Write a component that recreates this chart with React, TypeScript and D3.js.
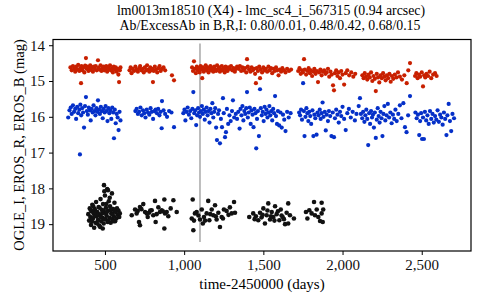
import { useEffect, useRef } from "react";
import * as d3 from "d3";

// light curve points, [time-2450000, mag]
const erosR: [number, number][] = [
  [282,14.62],[290,14.70],[298,14.58],[305,14.66],[312,14.74],[318,14.60],[325,14.68],[331,14.55],[338,14.72],[344,14.64],[349,15.06],[352,14.58],[358,14.70],[363,14.62],[370,14.76],[375,14.57],[380,14.36],[384,14.66],[390,14.60],[396,14.72],[401,14.64],[407,14.56],[412,14.69],[418,14.62],[424,14.74],[430,14.60],[436,14.66],[442,14.58],[448,14.70],[456,14.42],[460,14.63],[466,14.68],[472,14.56],[478,14.72],[484,14.64],[490,14.60],[496,14.70],[502,14.66],[508,14.58],[514,14.74],[520,14.62],[526,14.68],[532,14.56],[538,14.70],[544,14.64],[550,14.76],[556,14.60],[562,14.68],[568,14.62],[574,14.74],[580,14.66],[585,14.82],[589,15.03],[594,14.70],[598,14.62],
  [655,14.70],[662,14.62],[668,14.78],[675,14.66],[684,14.72],[692,14.60],[700,14.68],[708,14.74],[716,14.64],[722,14.58],[730,14.70],[738,14.66],[745,14.76],[752,14.62],[760,14.70],[766,14.56],[772,14.68],[780,14.74],[786,14.62],[792,14.70],[798,14.66],[803,15.03],[808,14.72],[815,14.60],[822,14.68],[830,14.76],[838,14.64],[845,14.58],[852,14.72],[860,14.66],[870,14.62],[880,14.70],[923,14.84],[936,14.98],
  [1050,14.62],[1056,14.72],[1062,14.45],[1068,14.66],[1074,14.78],[1080,14.60],[1086,14.70],[1092,14.64],[1098,14.76],[1104,14.58],[1110,14.68],[1114,14.92],[1118,14.62],[1124,14.74],[1130,14.66],[1136,14.56],[1142,14.70],[1148,14.62],[1154,14.76],[1160,14.66],[1166,14.58],[1172,14.70],[1178,14.64],[1184,14.74],[1190,14.60],[1196,14.68],[1202,14.72],[1208,14.56],[1214,14.66],[1220,14.62],[1226,14.74],[1232,14.68],[1238,14.58],[1244,14.70],[1250,14.64],[1256,14.76],[1262,14.60],[1268,14.68],[1274,14.72],[1280,14.62],[1288,14.66],[1296,14.58],[1304,14.70],[1312,14.64],[1320,14.74],[1328,14.66],[1334,14.60],
  [1345,14.66],[1352,14.58],[1360,14.72],[1368,14.62],[1376,14.70],[1384,14.64],[1392,14.76],[1397,14.39],[1402,14.60],[1410,14.68],[1418,14.74],[1426,14.62],[1434,14.70],[1442,14.66],[1448,14.80],[1453,15.06],[1458,14.64],[1466,14.72],[1474,14.60],[1479,14.92],[1484,14.68],[1492,14.76],[1500,14.62],[1508,14.70],[1516,14.66],[1524,14.74],[1532,14.60],[1540,14.70],[1548,14.64],[1556,14.78],[1564,14.66],[1572,14.72],[1580,14.62],[1588,14.70],[1596,14.84],[1604,14.68],[1612,14.74],[1620,14.64],[1630,14.70],[1640,14.76],[1650,14.66],[1662,14.72],[1675,14.68],
  [1720,14.72],[1728,14.64],[1736,14.80],[1744,14.70],[1750,14.76],[1757,14.39],[1762,14.68],[1770,14.82],[1778,14.72],[1786,14.64],[1794,14.78],[1800,14.70],[1808,14.86],[1815,14.74],[1822,14.66],[1830,14.80],[1838,14.72],[1845,15.03],[1852,14.76],[1860,14.68],[1868,14.84],[1876,14.74],[1884,14.70],[1892,14.80],[1900,14.76],[1908,14.66],[1916,14.88],[1924,14.74],[1932,14.82],[1940,15.12],[1946,15.26],[1952,14.78],[1960,14.70],[1968,14.86],[1976,14.76],[1984,14.92],[1992,14.72],[2000,14.82],[2010,15.10],[2020,14.78],[2030,14.70],[2042,14.84],[2055,14.76],[2068,14.88],[2080,14.80],
  [2125,14.84],[2133,14.92],[2140,14.78],[2148,14.88],[2156,14.96],[2164,14.82],[2172,14.90],[2180,14.76],[2188,15.00],[2196,14.86],[2204,14.94],[2210,15.28],[2216,14.80],[2224,14.90],[2232,15.04],[2240,14.84],[2248,14.92],[2256,14.78],[2264,14.88],[2272,14.98],[2280,14.84],[2288,14.92],[2296,14.80],[2304,15.02],[2312,14.86],[2320,14.94],[2330,14.82],[2340,14.90],[2350,14.76],[2362,14.88],[2375,14.96],[2390,14.84],[2405,15.06],[2415,14.70],[2426,14.50],
  [2458,14.86],[2466,14.78],[2474,14.92],[2482,14.82],[2490,14.88],[2500,14.76],[2508,15.15],[2515,14.84],[2522,14.90],[2530,14.80],[2540,14.86],[2550,14.74],[2560,14.92],[2572,14.82],[2584,14.78],[2594,14.86],
];

const erosB: [number, number][] = [
  [268,16.02],[276,15.82],[284,15.74],[290,15.92],[298,15.68],[305,15.86],[312,15.78],[318,16.06],[325,15.72],[331,15.90],[338,15.80],[342,17.05],[345,15.66],[350,15.96],[356,15.76],[362,15.88],[368,16.30],[374,15.70],[380,15.45],[386,15.84],[392,15.94],[398,15.74],[404,15.82],[410,16.10],[416,15.78],[422,15.88],[428,15.68],[434,15.84],[440,15.96],[446,15.76],[452,15.86],[456,15.54],[462,15.80],[468,15.92],[474,15.72],[480,15.84],[486,16.04],[492,15.78],[498,15.88],[504,15.70],[510,15.84],[516,16.12],[522,15.76],[528,15.90],[534,15.82],[540,16.06],[546,15.74],[552,15.88],[557,16.60],[562,15.80],[568,16.18],[574,15.92],[580,16.02],[586,16.37],[592,15.86],[598,16.10],
  [692,15.84],[700,15.78],[708,15.92],[716,15.86],[724,15.74],[732,15.96],[740,15.82],[748,15.90],[756,16.02],[764,15.80],[772,15.88],[780,15.94],[788,15.76],[796,15.86],[804,16.06],[812,15.84],[820,15.80],[828,15.90],[836,15.78],[844,15.96],[852,15.86],[858,16.32],[860,15.56],[870,15.82],[880,15.92],[892,16.00],[905,15.84],[920,15.88],[936,16.29],
  [995,15.90],[1002,15.80],[1008,16.10],[1015,15.86],[1022,15.74],[1030,15.94],[1038,15.84],[1045,16.04],[1052,15.78],[1058,15.31],[1064,15.90],[1070,15.82],[1076,16.23],[1082,15.96],[1088,15.76],[1094,15.88],[1100,16.00],[1106,15.84],[1112,15.70],[1118,15.92],[1124,15.80],[1130,16.08],[1136,15.86],[1142,15.74],[1148,15.96],[1154,15.84],[1160,16.16],[1166,15.78],[1172,15.90],[1178,15.62],[1184,16.02],[1190,15.86],[1196,15.76],[1202,16.30],[1207,16.65],[1214,15.92],[1220,15.82],[1226,16.74],[1232,16.06],[1239,16.29],[1245,15.48],[1250,15.90],[1258,16.57],[1264,16.43],[1270,15.78],[1278,16.20],[1286,15.96],[1294,16.12],[1302,15.84],[1308,15.54],[1316,16.02],[1326,15.92],[1334,16.06],
  [1342,15.86],[1350,16.33],[1356,15.78],[1362,15.96],[1368,15.70],[1374,16.10],[1380,15.84],[1386,15.92],[1392,15.76],[1397,15.31],[1402,16.02],[1408,15.88],[1414,15.74],[1420,16.20],[1426,15.82],[1432,15.94],[1438,16.29],[1444,15.78],[1450,15.90],[1455,16.88],[1460,16.06],[1466,15.84],[1472,16.54],[1479,15.23],[1484,15.76],[1490,15.96],[1496,15.86],[1502,16.12],[1508,15.72],[1514,15.92],[1520,15.80],[1526,16.02],[1532,15.88],[1538,15.70],[1544,15.96],[1550,15.84],[1556,16.10],[1562,15.78],[1568,15.90],[1574,15.42],[1580,15.98],[1586,16.20],[1592,15.84],[1600,16.24],[1608,15.88],[1616,16.30],[1624,15.94],[1632,16.08],[1640,16.40],[1650,15.86],[1660,16.02],[1672,15.90],
  [1726,15.88],[1732,15.96],[1738,15.80],[1744,16.08],[1751,15.06],[1756,15.84],[1760,16.54],[1766,16.00],[1772,15.76],[1778,15.90],[1784,16.12],[1790,15.86],[1796,15.98],[1802,16.20],[1810,15.82],[1816,16.54],[1822,15.94],[1828,16.04],[1836,16.50],[1842,15.88],[1848,15.96],[1856,15.80],[1862,16.06],[1868,15.90],[1874,15.60],[1880,16.00],[1888,15.86],[1894,16.38],[1900,15.94],[1908,16.12],[1914,15.84],[1922,15.98],[1930,16.54],[1938,15.88],[1946,16.57],[1952,16.04],[1960,15.80],[1968,15.94],[1976,16.16],[1984,15.86],[1992,15.98],[2000,15.72],[2010,16.06],[2020,16.37],[2030,15.90],[2040,15.78],[2052,16.02],[2064,15.86],[2078,16.10],[2088,15.92],
  [2102,15.70],[2110,15.48],[2116,15.92],[2124,16.04],[2130,15.86],[2138,16.14],[2144,15.96],[2150,15.80],[2156,16.06],[2162,16.79],[2168,15.90],[2174,16.20],[2180,15.84],[2186,16.02],[2192,15.94],[2198,16.30],[2204,15.88],[2210,16.59],[2216,16.08],[2222,15.76],[2228,15.98],[2234,16.16],[2240,15.86],[2246,16.04],[2252,16.54],[2258,15.92],[2264,15.70],[2270,16.10],[2278,15.96],[2286,15.64],[2294,16.02],[2302,15.88],[2310,16.18],[2318,15.94],[2326,16.06],[2334,15.80],[2342,16.12],[2352,15.92],[2362,15.68],[2372,16.04],[2384,15.62],[2394,16.29],[2404,16.43],[2414,15.96],[2426,15.42],
  [2460,15.88],[2468,16.04],[2476,15.94],[2484,16.51],[2490,16.12],[2496,15.90],[2502,16.62],[2508,16.02],[2514,16.62],[2520,15.86],[2528,16.10],[2536,15.96],[2544,16.20],[2552,15.84],[2560,16.06],[2568,15.92],[2576,16.16],[2584,15.98],[2592,16.08],[2600,15.82],[2608,16.14],[2616,15.94],[2624,16.02],[2632,16.22],[2640,15.88],[2648,16.06],[2656,16.51],[2662,15.96],[2670,15.64],[2678,16.12],[2686,16.40],[2694,15.92],[2704,16.04],
];

const ogleI: [number, number][] = [
  [395,18.72],[400,18.90],[404,18.56],[408,18.80],[412,19.02],[416,18.64],[420,18.46],[424,18.84],[428,18.70],[432,19.10],[436,18.58],[440,18.96],[444,18.38],[448,18.78],[452,18.66],[456,18.88],[460,18.52],[464,19.04],[468,18.74],[472,18.30],[476,18.92],[480,18.60],[484,18.82],[488,18.44],[492,18.98],[496,18.68],[500,18.20],[503,18.86],[506,18.54],[510,18.76],[514,18.02],[517,18.94],[520,18.62],[524,18.36],[528,18.82],[532,18.50],[536,18.96],[540,18.70],[544,18.14],[548,18.86],[552,18.58],[556,18.78],[560,18.40],[564,18.92],[568,18.66],[572,18.84],[576,18.56],[580,18.74],[585,18.62],[590,18.80],[594,18.70],
  [410,18.60],[418,18.92],[426,18.50],[434,18.78],[442,18.68],[450,18.98],[458,18.72],[466,18.54],[474,18.80],[482,18.70],[490,18.62],[498,18.86],[508,18.44],[512,18.66],[522,18.90],[530,18.26],[538,18.60],[546,18.72],[554,18.92],[562,18.64],[470,19.08],[486,19.12],[494,17.91],[519,18.05],[496,18.08],
  [669,18.75],[690,18.59],[707,18.63],[721,18.52],[742,18.44],[753,18.66],[764,18.70],[778,18.68],[795,18.61],[805,18.75],[816,18.35],[820,18.94],[837,18.53],[847,18.66],[858,18.61],[875,18.31],[879,18.70],[890,18.66],[932,18.33],[953,18.66],[875,19.12],[715,18.94],[721,19.03],[700,18.70],[730,18.58],[770,18.80],[786,18.62],[826,18.72],[866,18.64],[900,18.78],[915,18.56],
  [1054,18.31],[1048,18.84],[1058,19.17],[1068,18.70],[1079,18.66],[1100,18.87],[1111,18.59],[1125,18.80],[1142,18.70],[1152,18.35],[1159,18.89],[1174,18.59],[1184,18.75],[1195,18.47],[1205,18.87],[1216,18.68],[1226,19.08],[1237,18.80],[1251,18.59],[1268,18.63],[1289,18.53],[1300,18.70],[1315,18.38],[1321,18.68],[1090,18.76],[1132,18.90],[1165,18.72],[1200,18.78],[1245,18.84],[1280,18.74],[1062,18.90],[1118,18.98],
  [1411,18.80],[1436,18.70],[1453,18.78],[1468,18.89],[1479,18.68],[1489,18.81],[1500,18.56],[1510,18.98],[1521,18.75],[1531,18.42],[1542,18.87],[1553,18.66],[1563,18.80],[1574,18.50],[1584,18.72],[1601,18.89],[1610,18.59],[1622,18.80],[1637,19.00],[1647,18.68],[1657,18.42],[1657,18.98],[1668,18.75],[1693,18.84],[1445,18.86],[1495,18.74],[1526,18.62],[1548,18.78],[1570,18.90],[1592,18.64],[1615,18.76],[1630,18.86],
  [1769,18.66],[1778,18.84],[1790,18.61],[1805,18.70],[1820,18.38],[1826,18.75],[1837,18.59],[1847,18.80],[1858,18.91],[1868,18.40],[1868,18.70],[1878,18.59],[1875,18.94],
];

const xTicks = [500, 1000, 1500, 2000, 2500];
const yTicks = [14, 15, 16, 17, 18, 19];
const markTime = 1100;

export default function App() {
  const ref = useRef<SVGSVGElement>(null);

  useEffect(() => {
    if (!ref.current) return;
    const svg = d3.select(ref.current);
    svg.selectAll("*").remove();

    const font = "'Liberation Serif', 'Times New Roman', serif";
    const left = 53, right = 471, top = 39.5, bottom = 251;

    const x = d3.scaleLinear().domain([172, 2811]).range([left, right]);
    const y = d3.scaleLinear().domain([13.84, 19.75]).range([top, bottom]);

    // gray reference line
    svg.append("line")
      .attr("x1", x(markTime)).attr("x2", x(markTime))
      .attr("y1", y(13.95)).attr("y2", y(19.5))
      .attr("stroke", "#9a9a9a").attr("stroke-width", 1.3);

    const series: { data: [number, number][]; color: string; r: number }[] = [
      { data: erosR, color: "#c82000", r: 2.1 },
      { data: erosB, color: "#0530c8", r: 2.1 },
      { data: ogleI, color: "#111111", r: 2.3 },
    ];
    series.forEach(s => {
      svg.append("g")
        .selectAll("circle")
        .data(s.data)
        .join("circle")
          .attr("cx", d => x(d[0]))
          .attr("cy", d => y(d[1]))
          .attr("r", s.r)
          .attr("fill", s.color);
    });

    svg.append("rect")
      .attr("x", left).attr("y", top)
      .attr("width", right - left).attr("height", bottom - top)
      .attr("fill", "none").attr("stroke", "#000").attr("stroke-width", 1.2);

    const xAxis = svg.append("g")
      .attr("transform", `translate(0,${bottom})`)
      .call(d3.axisBottom(x).tickValues(xTicks).tickFormat(d3.format(",")).tickSize(4).tickSizeOuter(0).tickPadding(4));
    const yAxis = svg.append("g")
      .attr("transform", `translate(${left},0)`)
      .call(d3.axisLeft(y).tickValues(yTicks).tickFormat(d3.format("d")).tickSize(4).tickSizeOuter(0).tickPadding(4));
    [xAxis, yAxis].forEach(g => {
      g.select(".domain").remove();
      g.selectAll("text").attr("font-family", font).attr("font-size", 15).attr("fill", "#111");
      g.selectAll("line").attr("stroke", "#000");
    });

    svg.append("text")
      .attr("x", 271).attr("y", 14.5)
      .attr("text-anchor", "middle")
      .attr("font-family", font).attr("font-size", 13.8)
      .text("lm0013m18510 (X4) - lmc_sc4_i_567315 (0.94 arcsec)");
    svg.append("text")
      .attr("x", 270).attr("y", 30)
      .attr("text-anchor", "middle")
      .attr("font-family", font).attr("font-size", 13.8)
      .text("Ab/ExcessAb in B,R,I: 0.80/0.01, 0.48/0.42, 0.68/0.15");

    svg.append("text")
      .attr("x", 262).attr("y", 289)
      .attr("text-anchor", "middle")
      .attr("font-family", font).attr("font-size", 15)
      .text("time-2450000 (days)");

    svg.append("text")
      .attr("transform", "translate(24,145) rotate(-90)")
      .attr("text-anchor", "middle")
      .attr("font-family", font).attr("font-size", 14.5)
      .text("OGLE_I, EROS_R, EROS_B (mag)");
  }, []);

  return (
    <svg ref={ref} width={480} height={300}
      style={{ position: "absolute", left: 0, top: 0, background: "#fff" }} />
  );
}
